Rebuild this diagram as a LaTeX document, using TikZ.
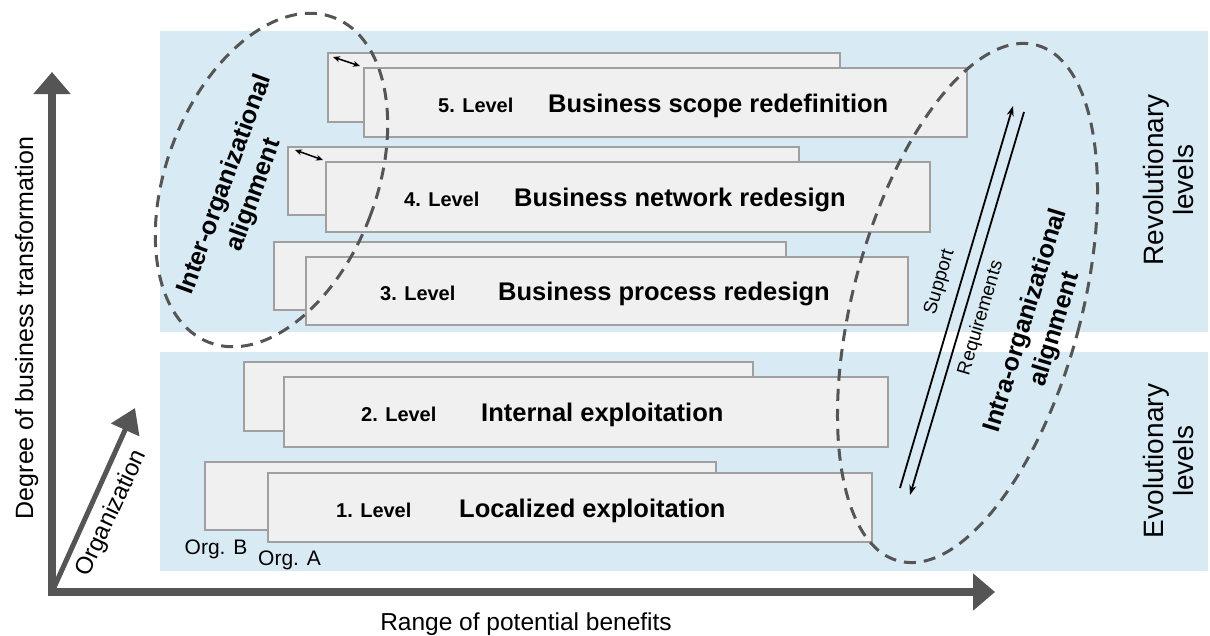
\documentclass[tikz,border=0pt]{standalone}
\usepackage{fontspec}
\setmainfont{Liberation Sans}
\usetikzlibrary{arrows.meta,calc}
\definecolor{bandblue}{RGB}{216,235,245}
\definecolor{boxfill}{RGB}{240,240,240}
\definecolor{boxline}{RGB}{160,160,160}
\definecolor{axgray}{RGB}{85,85,85}
\begin{document}
\begin{tikzpicture}[x=1pt,y=-1pt,
  band/.style={fill=bandblue, draw=none, inner sep=0pt, outer sep=0pt, anchor=north west},
  levelbox/.style={fill=boxfill, draw=boxline, line width=1.5pt, inner sep=0pt, outer sep=0pt, anchor=north west},
  numtxt/.style={font=\bfseries\fontsize{20}{24}\selectfont, anchor=base west, inner sep=0pt},
  titletxt/.style={font=\bfseries\fontsize{25.5}{30}\selectfont, anchor=base west, inner sep=0pt},
  axisarrow/.style={draw=axgray, line width=8pt, line join=miter,
    {Triangle[length=22pt,width=36pt]}-{Triangle[length=22pt,width=36pt]}},
  orgarrow/.style={draw=axgray, line width=5pt, -{Triangle[length=24pt,width=30pt]}},
  ell/.style={draw=axgray, line width=3pt, dash pattern=on 12pt off 8pt},
  dblarrow/.style={draw=black, line width=1.5pt, {Stealth[length=7pt,width=6pt]}-{Stealth[length=7pt,width=6pt]}},
  thinarrow/.style={draw=black, line width=1.8pt, -{Stealth[length=10pt,width=7pt]}},
  axlabel/.style={font=\fontsize{25}{30}\selectfont, inner sep=0pt},
  sidelabel/.style={font=\fontsize{28}{30}\selectfont, align=center, inner sep=0pt, rotate=90},
  smalllabel/.style={font=\fontsize{19}{23}\selectfont, inner sep=0pt},
  alignlabel/.style={font=\bfseries\fontsize{25}{31}\selectfont, align=center, inner sep=0pt}
]
\useasboundingbox (0,0) rectangle (1210,635);

% bands
\node[band, minimum width=1048pt, minimum height=301pt] (topband) at (160,31) {};
\node[band, minimum width=1048pt, minimum height=219pt] (botband) at (160,352) {};

% axes
\coordinate (corner) at (52,592);
\coordinate (ytip) at (52,72);
\coordinate (xtip) at (995,592);
\coordinate (orgtip) at (135,408);
\draw[axisarrow] (ytip) -- (corner) -- (xtip);
\draw[orgarrow] (corner) -- (orgtip);

% level 5
\node[levelbox, minimum width=512pt, minimum height=69pt] (b5) at (328,53) {};
\node[levelbox, minimum width=603pt, minimum height=69pt] (f5) at (364,68) {};
\node[numtxt] (n5) at (438,112) {5. Level};
\node[titletxt] (t5) at (548,112) {Business scope redefinition};
% level 4
\node[levelbox, minimum width=511pt, minimum height=68pt] (b4) at (288,147) {};
\node[levelbox, minimum width=604pt, minimum height=70pt] (f4) at (326,162) {};
\node[numtxt] (n4) at (404,206.5) {4. Level};
\node[titletxt] (t4) at (514,206.5) {Business network redesign};
% level 3
\node[levelbox, minimum width=512pt, minimum height=68pt] (b3) at (274,242) {};
\node[levelbox, minimum width=602pt, minimum height=68pt] (f3) at (306,257) {};
\node[numtxt] (n3) at (380,300.5) {3. Level};
\node[titletxt] (t3) at (498,300.5) {Business process redesign};
% level 2
\node[levelbox, minimum width=509pt, minimum height=69pt] (b2) at (244,362) {};
\node[levelbox, minimum width=604pt, minimum height=70pt] (f2) at (284,377) {};
\node[numtxt] (n2) at (361,421.5) {2. Level};
\node[titletxt] (t2) at (481,421.5) {Internal exploitation};
% level 1
\node[levelbox, minimum width=511pt, minimum height=68pt] (b1) at (205,462) {};
\node[levelbox, minimum width=604pt, minimum height=69pt] (f1) at (268,473) {};
\node[numtxt] (n1) at (336,517) {1. Level};
\node[titletxt] (t1) at (459,517) {Localized exploitation};

% small double arrows
\coordinate (d5a) at (333,57); \coordinate (d5b) at (360,66);
\coordinate (d4a) at (295,150); \coordinate (d4b) at (323,160);
\draw[dblarrow] (d5a) -- (d5b);
\draw[dblarrow] (d4a) -- (d4b);

% org labels
\node[font=\fontsize{21}{25}\selectfont, anchor=base, inner sep=0pt] (orgB) at (216,554) {Org. B};
\node[font=\fontsize{21}{25}\selectfont, anchor=base west, inner sep=0pt] (orgA) at (258,565) {Org. A};

% support / requirements
\coordinate (s1) at (900,488); \coordinate (s2) at (1013,106);
\coordinate (r1) at (1024,112); \coordinate (r2) at (910,495);
\draw[thinarrow] (s1) -- (s2);
\draw[thinarrow] (r1) -- (r2);
\node[smalllabel, rotate=73.5] (sup) at (940,282) {Support};
\node[smalllabel, rotate=73.5] (req) at (981,318) {Requirements};

% ellipses
\draw[ell, rotate around={-21:(271.5,180)}] (271.5,180) ellipse [x radius=105pt, y radius=174pt];
\draw[ell, rotate around={-15:(967.5,303)}] (967.5,303) ellipse [x radius=114pt, y radius=267pt];
\node[alignlabel, rotate=70] (inter) at (240,190) {Inter-organizational\\alignment};
\node[alignlabel, rotate=73] (intra) at (1041,325) {Intra-organizational\\alignment};

% side labels
\node[sidelabel] (rev) at (1168,180) {Revolutionary\\levels};
\node[sidelabel] (evo) at (1168,461) {Evolutionary\\levels};

% axis labels
\node[axlabel, rotate=90, anchor=base] (ylab) at (33,328) {Degree of business transformation};
\node[axlabel, font=\fontsize{24.5}{29}\selectfont, anchor=base] (xlab) at (526,630) {Range of potential benefits};
\node[axlabel, font=\fontsize{24}{29}\selectfont, rotate=65] (orglab) at (112,513) {Organization};
\end{tikzpicture}
\end{document}
